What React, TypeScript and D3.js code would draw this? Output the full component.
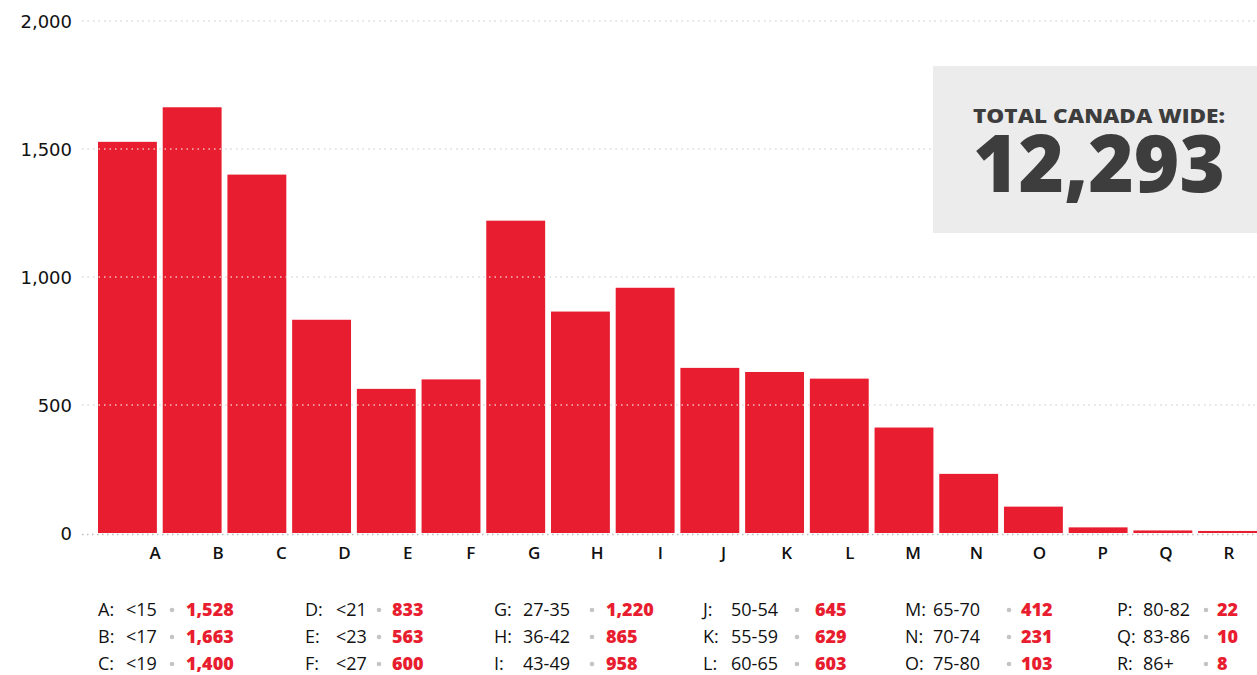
import React, { useRef, useEffect } from "react"
import * as d3 from "d3"

const letters = ["A", "B", "C", "D", "E", "F", "G", "H", "I", "J", "K", "L", "M", "N", "O", "P", "Q", "R"]
const ranges = ["<15", "<17", "<19", "<21", "<23", "<27", "27-35", "36-42", "43-49", "50-54", "55-59", "60-65", "65-70", "70-74", "75-80", "80-82", "83-86", "86+"]
const counts = [1528, 1663, 1400, 833, 563, 600, 1220, 865, 958, 645, 629, 603, 412, 231, 103, 22, 10, 8]
const yTicks = [0, 500, 1000, 1500, 2000]
const totalLabel = "TOTAL CANADA WIDE:"
const totalValue = 12293

const W = 1257
const H = 675
const RED = "#e81e30"
const FONT = "'Open Sans', sans-serif"

// legend columns: x of letter, range offset, dot offset, value offset
const legendCols = [
  { x: 98, r: 28, d: 74, v: 88 },
  { x: 305, r: 31, d: 74, v: 87 },
  { x: 494, r: 29, d: 98, v: 112 },
  { x: 703, r: 28, d: 94, v: 112 },
  { x: 905, r: 28, d: 104, v: 116 },
  { x: 1117, r: 26, d: 89, v: 100 },
]
const legendRows = [616, 643, 670]

const App = () => {
  const ref = useRef(null)

  useEffect(() => {
    const svg = d3.select(ref.current)
    svg.selectAll("*").remove()

    const y = d3.scaleLinear().domain([0, 2000]).range([533, 21])
    const x = d3.scaleBand().domain(letters).range([98, 1257]).paddingInner(0.09).paddingOuter(0)
    const xl = d3.scalePoint().domain(letters).range([155, 1229])
    const grid = yTicks.filter(d => d > 0)

    // gridlines
    svg.append("g")
      .selectAll("line")
      .data(grid)
      .enter()
      .append("line")
        .attr("x1", 82).attr("x2", W)
        .attr("y1", d => y(d)).attr("y2", d => y(d))
        .attr("stroke", "#bdbdbd")
        .attr("stroke-width", 1.5)
        .attr("stroke-dasharray", "1.5,4")

    // bars
    svg.append("g")
      .selectAll("rect")
      .data(counts)
      .enter()
      .append("rect")
        .attr("x", (d, i) => x(letters[i]))
        .attr("width", x.bandwidth())
        .attr("y", d => y(d))
        .attr("height", d => y(0) - y(d))
        .attr("fill", RED)

    // dotted lines showing through the bars
    svg.append("g")
      .selectAll("line")
      .data(grid)
      .enter()
      .append("line")
        .attr("x1", 82).attr("x2", W)
        .attr("y1", d => y(d)).attr("y2", d => y(d))
        .attr("stroke", "#ffffff")
        .attr("stroke-opacity", 0.7)
        .attr("stroke-width", 1.5)
        .attr("stroke-dasharray", "1.5,4")

    // baseline
    svg.append("line")
      .attr("x1", 82).attr("x2", W)
      .attr("y1", y(0) + 1.5).attr("y2", y(0) + 1.5)
      .attr("stroke", "#bdbdbd")
      .attr("stroke-width", 1.5)
      .attr("stroke-dasharray", "1.5,3.5")

    // y labels
    svg.append("g")
      .selectAll("text")
      .data(yTicks)
      .enter()
      .append("text")
        .attr("x", 72)
        .attr("y", d => y(d) + 6.5)
        .attr("text-anchor", "end")
        .attr("font-family", "'DejaVu Sans', sans-serif")
        .attr("font-size", 18)
        .attr("fill", "#111")
        .text(d => d3.format(",")(d))

    // x labels
    svg.append("g")
      .selectAll("text")
      .data(letters)
      .enter()
      .append("text")
        .attr("x", d => xl(d))
        .attr("y", 559)
        .attr("text-anchor", "middle")
        .attr("font-family", FONT)
        .attr("font-size", 17)
        .attr("font-weight", 600)
        .attr("fill", "#111")
        .text(d => d)

    // total box
    const box = svg.append("g")
    box.append("rect")
      .attr("x", 933).attr("y", 66)
      .attr("width", W - 933).attr("height", 167)
      .attr("fill", "#ececec")
    box.append("text")
      .attr("x", 1099).attr("y", 123)
      .attr("text-anchor", "middle")
      .attr("font-family", FONT)
      .attr("font-size", 20)
      .attr("font-weight", 800)
      .attr("fill", "#3d3d3d")
      .attr("textLength", 252)
      .attr("lengthAdjust", "spacingAndGlyphs")
      .text(totalLabel)
    box.append("text")
      .attr("x", 1099).attr("y", 192)
      .attr("text-anchor", "middle")
      .attr("font-family", FONT)
      .attr("font-size", 80)
      .attr("font-weight", 800)
      .attr("fill", "#3d3d3d")
      .attr("textLength", 252)
      .attr("lengthAdjust", "spacingAndGlyphs")
      .text(d3.format(",")(totalValue))

    // legend
    const leg = svg.append("g")
      .attr("font-family", FONT)
      .attr("font-size", 18)
    letters.forEach((l, i) => {
      const c = legendCols[Math.floor(i / 3)]
      const yy = legendRows[i % 3]
      leg.append("text").attr("x", c.x).attr("y", yy).attr("fill", "#111").attr("font-weight", 500).text(l + ":")
      leg.append("text").attr("x", c.x + c.r).attr("y", yy).attr("fill", "#111").attr("font-weight", 500).text(ranges[i])
      leg.append("circle").attr("cx", c.x + c.d).attr("cy", yy - 6).attr("r", 2.3).attr("fill", "#c4c4c4")
      leg.append("text").attr("x", c.x + c.v).attr("y", yy).attr("fill", RED).attr("font-weight", 800).text(d3.format(",")(counts[i]))
    })
  }, [])

  return (
    <svg ref={ref} width={W} height={H} style={{ position: "absolute", left: 0, top: 0, background: "#fff" }} />
  )
}

export default App
